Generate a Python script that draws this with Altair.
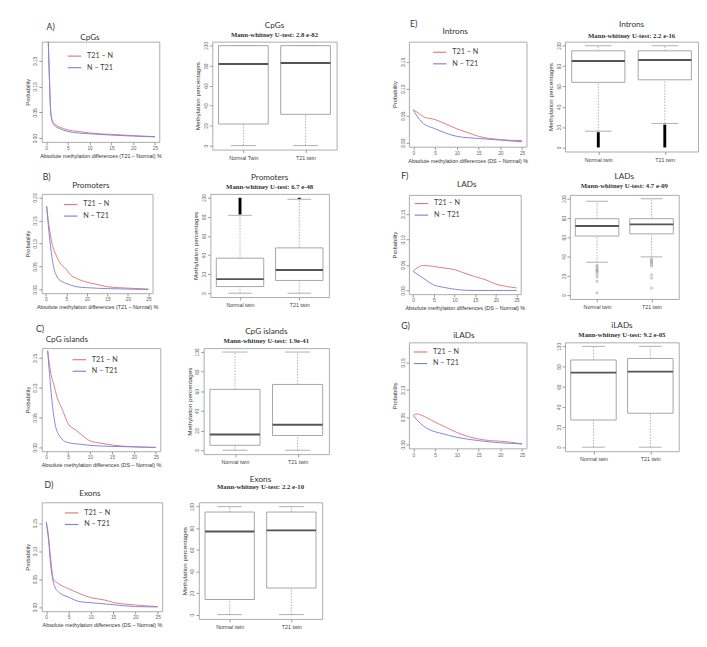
import altair as alt
import pandas as pd

series = ["T21 – N", "N – T21"]
RED = "#e07a7d"
BLUE = "#8282d8"
x_ticks = [0, 5, 10, 15, 20, 25]
box_ticks = [0, 20, 40, 60, 80, 100]

# ---- line panels (absolute methylation difference vs probability) ----
cpg_x = [0.3, 0.5, 0.75, 1.0, 1.3, 1.6, 2, 3, 5, 7.5, 10, 15, 20, 25]
cpg_red = [0.26, 0.19, 0.12, 0.06, 0.038, 0.031, 0.027, 0.022, 0.016, 0.013, 0.010, 0.0073, 0.005, 0.003]
cpg_blue = [0.26, 0.19, 0.12, 0.058, 0.036, 0.029, 0.024, 0.019, 0.013, 0.010, 0.0085, 0.006, 0.004, 0.0025]

prom_x_red = [0.2, 0.6, 1.0, 1.5, 2, 2.5, 3, 4, 5, 6, 7.5, 10, 12.5, 15, 20, 25]
prom_red = [0.181, 0.15, 0.125, 0.10, 0.085, 0.075, 0.065, 0.052, 0.044, 0.032, 0.024, 0.016, 0.011, 0.006, 0.003, 0.001]
prom_x_blue = [0.2, 0.6, 1.0, 1.5, 2, 2.5, 3, 4, 5, 7.5, 10, 15, 20, 25]
prom_blue = [0.181, 0.14, 0.105, 0.07, 0.045, 0.032, 0.024, 0.017, 0.013, 0.006, 0.004, 0.002, 0.001, 0.0]

isl_x_red = [0.35, 1.1, 1.8, 2.5, 3.6, 5, 6.8, 8.6, 10, 12.5, 15, 20, 25]
isl_red = [0.162, 0.123, 0.104, 0.084, 0.065, 0.040, 0.029, 0.018, 0.011, 0.007, 0.004, 0.001, 0.0]
isl_x_blue = [0.35, 0.9, 1.4, 2.1, 2.9, 3.9, 5, 7.5, 10, 15, 20, 25]
isl_blue = [0.162, 0.112, 0.073, 0.037, 0.021, 0.012, 0.008, 0.0055, 0.0035, 0.0017, 0.001, 0.0]

exo_x_red = [0, 0.5, 1, 1.6, 2.4, 5, 7.3, 10, 13, 15, 20, 25]
exo_red = [0.152, 0.128, 0.087, 0.050, 0.044, 0.033, 0.025, 0.017, 0.013, 0.0086, 0.004, 0.001]
exo_x_blue = [0, 0.5, 1, 1.8, 2.8, 5, 7.6, 10, 15, 20, 25]
exo_blue = [0.152, 0.122, 0.076, 0.039, 0.027, 0.018, 0.0098, 0.008, 0.0046, 0.001, 0.0005]

intr_x_red = [0, 1.2, 2.4, 5, 7.4, 10, 12.8, 15, 20, 25]
intr_red = [0.061, 0.055, 0.048, 0.043, 0.035, 0.026, 0.018, 0.012, 0.006, 0.004]
intr_x_blue = [0, 0.9, 2, 5, 7.8, 10, 15, 20, 25]
intr_blue = [0.061, 0.049, 0.038, 0.026, 0.017, 0.012, 0.008, 0.005, 0.002]

lad_x_red = [0, 1.3, 2.5, 5, 7.5, 10, 11.7, 15, 17.5, 20, 22.5, 25]
lad_red = [0.0375, 0.046, 0.049, 0.047, 0.044, 0.041, 0.036, 0.027, 0.021, 0.0125, 0.008, 0.005]
lad_x_blue = [0, 2.5, 5, 7.5, 10, 12.5, 15, 20, 25]
lad_blue = [0.0375, 0.024, 0.011, 0.006, 0.0025, 0.0005, 0.0, 0.0, 0.0]

ilad_x_red = [0, 0.8, 1.7, 5, 7.6, 10, 12.4, 15, 17.5, 20, 25]
ilad_red = [0.053, 0.056, 0.054, 0.041, 0.031, 0.022, 0.015, 0.010, 0.007, 0.006, 0.001]
ilad_x_blue = [0, 1.7, 4.3, 6.1, 10, 15, 20, 25]
ilad_blue = [0.053, 0.038, 0.025, 0.021, 0.013, 0.007, 0.003, 0.001]

# ---- box panels: [Normal, T21] ----
box_groups = ["Normal twin", "T21 twin"]
box_groups_A = ["Normal Twin", "T21 twin"]

cpg_lo, cpg_q1, cpg_med, cpg_q3, cpg_hi = [0, 0], [21.6, 31.3], [81.6, 82.6], [100, 100], [100, 100]
prom_lo, prom_q1, prom_med, prom_q3, prom_hi = [0, 0], [7, 13.4], [14.8, 24.3], [36.7, 47.5], [81.6, 98.4]
prom_out_lo, prom_out_hi = [82.5, 98.8], [100, 100]
isl_lo, isl_q1, isl_med, isl_q3, isl_hi = [0, 0], [5, 15], [16, 26], [62, 67], [100, 100]
exo_lo, exo_q1, exo_med, exo_q3, exo_hi = [0, 0], [14, 24.6], [77, 78], [95, 95], [100, 100]
intr_lo, intr_q1, intr_med, intr_q3, intr_hi = [16, 23.6], [64, 66.5], [85, 86], [95, 95], [100, 100]
intr_out_lo, intr_out_hi = [0, 0], [15, 22.5]
lad_lo, lad_q1, lad_med, lad_q3, lad_hi = [34.1, 39.7], [61.3, 63.6], [71.8, 73.4], [79.3, 79.3], [97.4, 100]
lad_out_normal = [30.8, 29.5, 27.5, 26.2, 24.9, 23.6, 21.3, 18.7, 14.4, 2.3]
lad_out_t21 = [37.4, 36.1, 34.8, 33.4, 31.8, 30.2, 21, 17.7, 7.2]
ilad_lo, ilad_q1, ilad_med, ilad_q3, ilad_hi = [0, 0], [27, 33.7], [74, 75], [86.5, 88], [100, 100]

FRAME = "#aaaaaa"
BOXLINE = "#9a9a9a"


def line_panel(letter, title, xr, yr, xb, yb, yticks, ydom, xlabel, w, h,
               legx, legy, tx, ty, lx, ly, shift=0):
    df = pd.DataFrame({
        "diff": list(xr) + list(xb),
        "prob": list(yr) + list(yb),
        "series": [series[0]] * len(xr) + [series[1]] * len(xb),
    })
    xaxis = alt.Axis(values=x_ticks, format="d", title=xlabel, titleFontSize=5.6)
    yaxis = alt.Axis(values=yticks, format=".2f", title="Probability", labelAngle=270,
                     labelAlign="center", labelBaseline="bottom", titleFontSize=6)
    lines = alt.Chart(df).mark_line(strokeWidth=1, clip=True, interpolate="monotone").encode(
        x=alt.X("diff:Q", scale=alt.Scale(domain=[-1, 26], nice=False, zero=False), axis=xaxis),
        y=alt.Y("prob:Q", scale=alt.Scale(domain=ydom, nice=False, zero=False), axis=yaxis),
        color=alt.Color("series:N", scale=alt.Scale(domain=series, range=[RED, BLUE]),
                        legend=alt.Legend(orient="none", legendX=legx, legendY=legy, title=None,
                                          symbolType="stroke", symbolSize=196, symbolStrokeWidth=1.2,
                                          labelFontSize=7.5, labelColor="#444", labelFont="Lato",
                                          rowPadding=-2, padding=0, labelOffset=5)),
    )
    lab = alt.Chart(pd.DataFrame({"t": [letter]})).mark_text(
        align="left", baseline="middle", fontSize=9, font="Lato", color="#333"
    ).encode(text="t:N", x=alt.value(lx), y=alt.value(ly))
    ttl = alt.Chart(pd.DataFrame({"t": [title]})).mark_text(
        align="center", baseline="middle", fontSize=8.5, font="Lato", color="#333"
    ).encode(text="t:N", x=alt.value(tx), y=alt.value(ty))
    layers = [lines, lab, ttl]
    if shift:
        # invisible spacer that widens the left bound so the panel sits further right
        layers.append(alt.Chart(pd.DataFrame({"t": [0]})).mark_rule(strokeOpacity=0).encode(
            x=alt.value(-20 - shift), y=alt.value(0), y2=alt.value(1)))
    return alt.layer(*layers).properties(width=w, height=h)


def box_panel(title, sub, labels, lo, q1, med, q3, hi, ytitle, w, h, toff, spad=2,
              out_lo=None, out_hi=None, pts_n=None, pts_t=None):
    df = pd.DataFrame({"pos": [1, 2], "lab": labels, "lo": lo, "q1": q1,
                       "med": med, "q3": q3, "hi": hi})
    xs = alt.Scale(domain=[0.5, 2.5], nice=False, zero=False)
    ys = alt.Scale(domain=[-4, 104], nice=False, zero=False)
    expr = "datum.value == 1 ? '%s' : '%s'" % (labels[0], labels[1])
    xaxis = alt.Axis(values=[1, 2], labelExpr=expr, title=None, labelFontSize=5.5,
                     labelColor="#444", labelPadding=3)
    if ytitle:
        yaxis = alt.Axis(values=box_ticks, title=ytitle, labelAngle=270, labelAlign="center",
                         labelBaseline="bottom", titleFontSize=6.5)
    else:
        yaxis = alt.Axis(values=box_ticks, title=None, labelAngle=270, labelAlign="center",
                         labelBaseline="bottom")
    base = alt.Chart(df).transform_calculate(
        l="datum.pos - 0.4", r="datum.pos + 0.4", cl="datum.pos - 0.2", cr="datum.pos + 0.2")
    X = lambda f: alt.X(f, scale=xs, axis=xaxis)
    Y = lambda f: alt.Y(f, scale=ys, axis=yaxis)
    wl = base.mark_rule(color=BOXLINE, strokeDash=[1.5, 1.5], strokeWidth=0.8).encode(
        x=X("pos:Q"), y=Y("lo:Q"), y2="q1:Q")
    wh = base.mark_rule(color=BOXLINE, strokeDash=[1.5, 1.5], strokeWidth=0.8).encode(
        x=X("pos:Q"), y=Y("q3:Q"), y2="hi:Q")
    cl = base.mark_rule(color=BOXLINE, strokeWidth=0.8).encode(x=X("cl:Q"), x2="cr:Q", y=Y("lo:Q"))
    ch = base.mark_rule(color=BOXLINE, strokeWidth=0.8).encode(x=X("cl:Q"), x2="cr:Q", y=Y("hi:Q"))
    bx = base.mark_rect(fill="white", stroke=BOXLINE, strokeWidth=0.9).encode(
        x=X("l:Q"), x2="r:Q", y=Y("q1:Q"), y2="q3:Q")
    md = base.mark_rule(color="#555555", strokeWidth=2).encode(x=X("l:Q"), x2="r:Q", y=Y("med:Q"))
    layers = [wl, wh, cl, ch, bx, md]
    if out_lo is not None:
        odf = pd.DataFrame({"pos": [1, 2], "olo": out_lo, "ohi": out_hi})
        layers.append(alt.Chart(odf).mark_rule(color="black", strokeWidth=3).encode(
            x=X("pos:Q"), y=Y("olo:Q"), y2="ohi:Q"))
    if pts_n is not None:
        pdf = pd.DataFrame({"pos": [1] * len(pts_n) + [2] * len(pts_t), "v": pts_n + pts_t})
        layers.append(alt.Chart(pdf).mark_point(shape="circle", size=5, color="#888",
                                                strokeWidth=0.8).encode(x=X("pos:Q"), y=Y("v:Q")))
    return alt.layer(*layers).properties(
        width=w, height=h,
        title=alt.TitleParams(title, subtitle=sub, fontSize=8.5, font="Lato", color="#333",
                              subtitleFont="Liberation Serif", subtitleFontSize=7,
                              subtitleFontWeight="bold", subtitleColor="#333",
                              subtitlePadding=spad, offset=toff),
    )


def hc(*c, spacing):
    return alt.hconcat(*c, spacing=spacing, bounds="flush").resolve_scale(color="independent")


def vc(*c, spacing):
    return alt.vconcat(*c, spacing=spacing).resolve_scale(color="independent")


XL_T21 = "Absolute methylation differences (T21 – Normal) %"
XL_DS = "Absolute methylation differences (DS – Normal) %"
YT = "Methylation percentages"

A_line = line_panel("A)", "CpGs", cpg_x, cpg_red, cpg_x, cpg_blue, [0, 0.05, 0.10, 0.15],
                    [-0.0072, 0.1872], XL_T21, 122, 104, 26, 7, 50, -5, 5, -15)
A_box = box_panel("CpGs", "Mann-whitney U-test: 2.8 e-82", box_groups_A, cpg_lo, cpg_q1, cpg_med,
                  cpg_q3, cpg_hi, YT, 129, 112, 4)
B_line = line_panel("B)", "Promoters", prom_x_red, prom_red, prom_x_blue, prom_blue,
                    [0, 0.05, 0.10, 0.15, 0.20], [-0.008, 0.208], XL_T21, 115, 103, 22, 3, 51, -9, 1, -17,
                    shift=7)
B_box = box_panel("Promoters", "Mann-whitney U-test: 6.7 e-48", box_groups, prom_lo, prom_q1, prom_med,
                  prom_q3, prom_hi, YT, 123, 107, 4, out_lo=prom_out_lo, out_hi=prom_out_hi)
C_line = line_panel("C)", "CpG islands", isl_x_red, isl_red, isl_x_blue, isl_blue, [0, 0.05, 0.10, 0.15],
                    [-0.0064, 0.1664], XL_DS, 123, 107, 31, 4, 26, -9, -6, -20, shift=7)
C_box = box_panel("CpG islands", "Mann-whitney U-test: 1.9e-41", box_groups, isl_lo, isl_q1, isl_med,
                  isl_q3, isl_hi, YT, 130, 110, 4)
D_line = line_panel("D)", "Exons", exo_x_red, exo_red, exo_x_blue, exo_blue, [0, 0.05, 0.10, 0.15],
                    [-0.0072, 0.1872], XL_DS, 125, 113, 23, 3, 50, -10, 3, -18, shift=7)
D_box = box_panel("Exons", "Mann-whitney U-test: 2.2 e-10", box_groups, exo_lo, exo_q1, exo_med,
                  exo_q3, exo_hi, YT, 128, 121, 13, spad=0)
E_line = line_panel("E)", "Introns", intr_x_red, intr_red, intr_x_blue, intr_blue, [0, 0.05, 0.10, 0.15],
                    [-0.0072, 0.1872], XL_DS, 122, 109, 24, 3, 48, -11, 1, -18)
E_box = box_panel("Introns", "Mann-whitney U-test: 2.2 e-16", box_groups, intr_lo, intr_q1, intr_med,
                  intr_q3, intr_hi, YT, 138, 114, 3, spad=4, out_lo=intr_out_lo, out_hi=intr_out_hi)
F_line = line_panel("F)", "LADs", lad_x_red, lad_red, lad_x_blue, lad_blue, [0, 0.05, 0.10, 0.15],
                    [-0.0072, 0.1872], XL_DS, 116, 103, 5, 1, 60, -11, -8, -20, shift=9)
F_box = box_panel("LADs", "Mann-whitney U-test: 4.7 e-09", box_groups, lad_lo, lad_q1, lad_med,
                  lad_q3, lad_hi, None, 113, 108, 6, pts_n=lad_out_normal, pts_t=lad_out_t21)
G_line = line_panel("G)", "iLADs", ilad_x_red, ilad_red, ilad_x_blue, ilad_blue, [0, 0.05, 0.10, 0.15],
                    [-0.0072, 0.1872], "", 122, 110, 4, 2, 57, -8, -8, -17, shift=10)
G_box = box_panel("iLADs", "Mann-whitney U-test: 9.2 e-05", box_groups, ilad_lo, ilad_q1, ilad_med,
                  ilad_q3, ilad_hi, None, 118, 113, 5, spad=1)

rowA = hc(A_line, A_box, spacing=55)
rowB = hc(B_line, B_box, spacing=60)
rowC = hc(C_line, C_box, spacing=45)
rowD = hc(D_line, D_box, spacing=38)
rowE = hc(E_line, E_box, spacing=40)
rowF = hc(F_line, F_box, spacing=51)
rowG = hc(G_line, G_box, spacing=40)

left = vc(rowA, vc(rowB, vc(rowC, rowD, spacing=5), spacing=13), spacing=11)
right = vc(rowE, vc(rowF, rowG, spacing=9), spacing=6)

chart = alt.hconcat(left, right, spacing=43).resolve_scale(color="independent").properties(
    padding={"left": 7, "top": 0, "right": 0, "bottom": 0}
).configure_view(stroke=FRAME, strokeWidth=1).configure_axis(
    grid=False, domain=False, labelFont="Liberation Sans", labelFontSize=5, labelColor="#666",
    tickColor="#999", tickSize=3, labelPadding=1, titleFont="Liberation Sans",
    titleFontWeight="normal", titleColor="#333", titlePadding=3,
).configure_title(fontWeight="normal")

chart.save("out.html", embed_options={"renderer": "svg", "actions": False})
